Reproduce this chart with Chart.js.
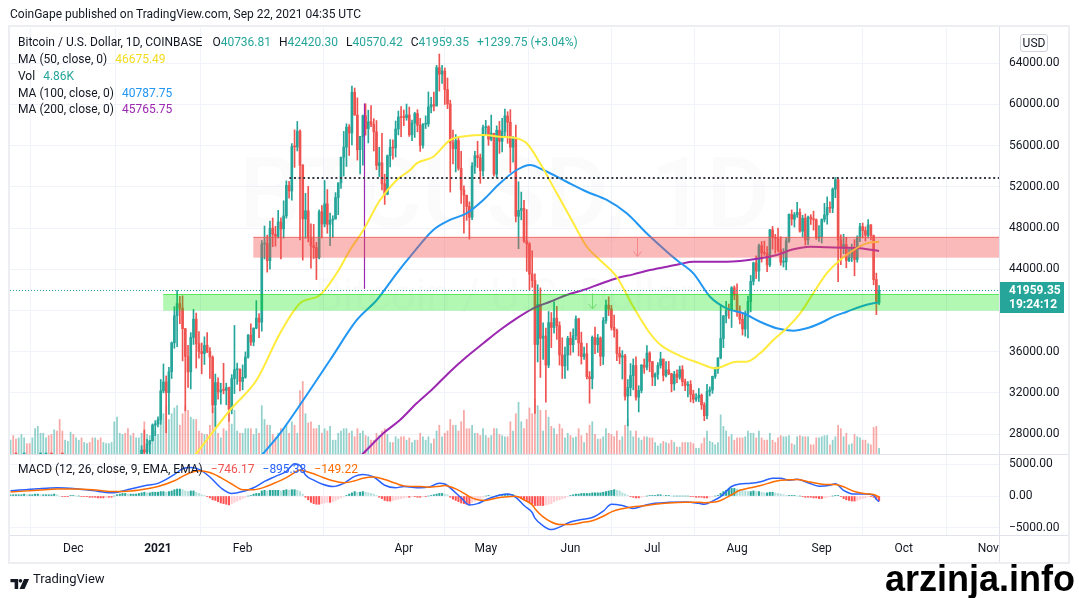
<!DOCTYPE html>
<html>
<head>
<meta charset="utf-8">
<title>BTCUSD 1D</title>
<script src="https://cdn.jsdelivr.net/npm/chart.js@4.4.1/dist/chart.umd.min.js"></script>
<style>
  html, body { margin:0; padding:0; background:#ffffff; }
  #wrap { position:relative; width:1079px; height:598px; overflow:hidden; font-family: Roboto, 'Noto Sans', sans-serif; color:#131722; }
  canvas { position:absolute; left:0; top:0; }
  .abs { position:absolute; white-space:nowrap; }
  .leg { font-size:12px; line-height:14px; color:#131722; }
  .g { margin-left:8px; }
  .sep { position:absolute; background:#e0e3eb; }
</style>
</head>
<body>
<div id="wrap">
  <canvas id="main" width="1079" height="598"></canvas>
  <canvas id="macd" width="1079" height="598"></canvas>
  <div class="abs" style="left:8px;top:25px;width:1058px;height:535px;border:2px solid #eceef2;"></div>
  <div class="sep" style="left:999px;top:27px;width:1px;height:535px;"></div>
  <div class="sep" style="left:10px;top:454px;width:1058px;height:1px;"></div>
  <div class="sep" style="left:10px;top:535px;width:1058px;height:1px;"></div>
  <div class="abs" style="left:10px;top:7px;font-size:12px;line-height:15px;color:#131722;">CoinGape published on TradingView.com, Sep 22, 2021 04:35 UTC</div>
  <div id="leg1" class="abs leg" style="left:18px;top:35px;"></div>
  <div id="leg2" class="abs leg" style="left:18px;top:52px;"></div>
  <div id="leg3" class="abs leg" style="left:18px;top:69px;"></div>
  <div id="leg4" class="abs leg" style="left:18px;top:86px;"></div>
  <div id="leg5" class="abs leg" style="left:18px;top:102px;"></div>
  <div id="leg6" class="abs leg" style="left:18px;top:462px;"></div>
  <div class="abs" style="left:1020px;top:34px;width:26px;height:16px;border:1px solid #d1d4dc;border-radius:3px;font-size:12px;line-height:16px;text-align:center;color:#131722;">USD</div>
  <div class="abs" style="left:10px;top:574px;">
    <svg width="20" height="10" viewBox="0 0 21 11"><path d="M0 0h8.5v11H4.6V3.6H0z" fill="#131722"/><circle cx="11" cy="2" r="2" fill="#131722"/><path d="M15 0h5.5l-5 11H10z" fill="#131722"/></svg>
  </div>
  <div class="abs" style="left:33px;top:571px;font-size:13px;line-height:16px;color:#131722;">TradingView</div>
  <div class="abs" style="left:885px;top:561px;font-family:'Liberation Sans',Arial,sans-serif;font-weight:bold;font-size:36px;line-height:36px;color:#000;">arzinja.info</div>
</div>
<script>
// ---------------- DATA (BTC/USD, Coinbase, daily, from 2020-11-08) ----------------
const startDate = '2020-11-08';
// prices in thousands of USD
const openK = [
 14.83,15.48,15.33,15.31,15.70,16.29,16.33,16.07,15.96,16.73,17.66,17.80,17.82,18.69,18.70,18.42,18.37,19.16,18.74,17.16,17.14,17.72,18.18,
 19.70,18.79,19.22,19.45,18.70,19.15,19.37,19.18,18.32,18.55,18.26,18.04,18.81,19.17,19.28,19.44,21.35,22.80,23.14,23.86,23.48,22.73,23.82,23.25,23.71,24.69,26.46,26.27,27.04,27.36,28.88,
 28.99,29.41,32.20,33.06,32.03,34.05,36.86,39.49,40.67,40.24,38.24,35.54,34.04,37.39,39.16,36.77,36.02,35.82,36.63,36.02,35.47,30.83,33.00,32.09,32.28,32.25,32.51,30.41,33.40,34.26,34.30,
 33.11,33.51,35.48,37.62,36.94,38.29,39.26,38.87,46.45,46.51,44.84,47.99,47.40,47.20,48.60,47.93,49.18,52.15,51.60,55.92,55.88,57.41,54.09,48.89,49.68,47.07,46.28,46.11,
 45.14,49.59,48.40,50.35,48.37,48.76,48.88,50.97,52.39,54.88,55.86,57.80,57.23,61.19,58.97,55.61,56.90,58.91,57.66,58.33,58.08,57.35,54.08,54.34,52.30,51.29,55.03,55.84,55.78,57.62,58.79,
 58.74,58.73,58.99,57.06,58.20,59.12,57.99,56.04,58.09,58.12,59.77,59.99,59.86,63.58,62.95,63.25,61.45,60.05,56.27,55.70,56.50,53.80,51.70,51.19,50.10,49.05,54.02,55.03,54.84,53.56,
 57.75,57.83,56.63,57.21,53.24,57.50,56.43,57.38,58.89,58.28,55.86,56.70,49.15,49.72,49.91,46.76,46.46,43.53,42.90,36.70,40.60,37.30,37.52,34.70,38.82,38.35,39.25,38.53,35.68,34.62,35.68,
 37.30,36.68,37.56,39.19,36.85,35.52,35.80,33.57,33.38,37.39,36.69,37.33,35.55,39.02,40.52,40.16,38.35,38.09,35.82,35.48,35.60,31.68,32.51,33.68,34.66,31.59,32.24,34.70,34.49,35.87,
 35.04,33.54,33.81,34.67,35.29,33.70,34.23,33.86,32.88,33.82,33.51,34.26,33.09,32.73,32.82,31.87,31.38,31.52,31.78,30.83,29.79,32.14,32.29,33.60,34.28,35.40,37.28,39.46,40.02,40.00,42.21,
 41.49,39.85,39.15,38.20,39.74,40.87,42.83,44.62,43.82,46.29,45.59,45.55,44.42,47.83,47.10,47.02,45.91,44.69,44.71,46.76,49.33,48.87,49.29,49.52,47.70,48.96,46.85,49.07,48.90,48.81,47.05,
 47.13,48.85,49.28,50.00,49.93,51.79,52.69,46.86,46.08,46.40,44.85,45.17,46.03,44.95,47.11,48.14,47.76,47.30,48.31,47.26,43.00,40.73681
];
const highK = [
 15.65,15.84,15.48,15.97,16.34,16.48,16.33,16.14,16.89,17.86,18.48,18.19,18.82,18.97,18.75,18.77,19.42,19.49,18.92,17.46,17.90,18.35,19.86,
 19.92,19.33,19.60,19.51,19.18,19.42,19.43,19.29,18.64,18.57,18.28,18.95,19.41,19.34,19.56,21.56,23.77,23.29,24.17,24.30,24.10,23.82,24.10,23.79,24.80,26.87,28.40,27.49,27.37,28.99,29.30,
 29.68,33.30,34.81,33.65,34.48,36.95,40.37,41.95,41.38,41.42,38.24,36.63,37.85,40.10,39.75,37.95,36.85,37.45,37.85,36.41,35.60,33.83,33.46,32.94,34.87,32.94,32.56,33.78,38.55,34.89,34.33,
 34.72,35.98,37.66,38.71,38.31,40.96,39.70,46.79,48.20,47.32,48.68,48.98,48.17,49.72,49.00,50.65,52.58,52.53,56.20,57.54,58.35,57.53,54.18,51.37,52.05,48.42,48.37,46.61,
 49.78,50.18,52.62,51.74,49.45,49.20,51.45,52.40,54.90,57.39,58.13,58.05,61.79,61.60,60.65,56.90,58.98,60.07,59.45,59.90,58.62,58.44,55.85,57.20,53.23,55.10,56.60,56.57,58.40,59.37,59.80,
 59.47,60.04,59.75,58.49,59.25,59.49,58.65,58.15,58.90,61.22,60.70,61.20,63.80,64.90,63.80,63.55,62.57,60.42,57.52,57.08,56.80,55.45,52.10,51.20,50.55,54.36,55.46,56.43,55.19,58.00,
 58.46,57.94,58.97,57.21,57.93,58.36,58.66,59.55,59.30,59.50,56.89,58.00,52.50,51.50,50.70,49.80,46.60,45.80,43.55,42.50,42.20,38.80,38.30,39.90,39.80,40.85,40.40,38.90,37.35,36.45,37.50,
 37.90,38.22,39.48,39.25,37.90,36.45,36.80,34.07,37.53,38.40,37.68,37.44,39.32,41.00,41.33,40.50,39.56,38.20,36.45,36.10,35.74,33.30,34.85,35.30,35.50,32.70,34.75,35.30,36.60,36.00,
 35.04,33.94,34.94,35.95,35.29,35.05,35.06,33.91,34.10,34.25,34.60,34.65,33.34,33.10,33.19,32.26,31.94,32.43,31.90,31.05,32.84,32.59,33.63,34.49,35.40,40.55,39.53,40.90,40.63,42.32,42.39,
 42.60,40.45,39.78,39.95,41.39,43.40,44.70,45.30,46.45,46.70,46.74,46.20,47.89,48.16,47.39,48.00,47.16,46.00,47.06,49.38,49.76,49.52,50.50,49.87,49.24,49.37,49.17,49.30,49.65,48.90,48.25,
 48.90,50.40,51.03,50.55,51.90,52.92,52.78,47.35,47.40,47.10,45.97,46.45,46.88,47.25,48.47,48.49,48.13,48.82,48.35,47.33,43.63,42.4203
];
const lowK = [
 14.72,14.80,15.09,15.28,15.44,15.96,15.71,15.87,15.87,16.55,17.22,17.35,17.76,18.36,17.62,18.00,18.03,18.57,16.33,16.45,16.88,17.53,18.18,
 18.32,18.35,18.94,18.59,18.51,18.92,18.90,18.21,17.65,17.91,17.58,18.02,18.72,19.00,19.08,19.30,21.23,22.35,22.76,23.07,22.00,22.36,22.72,22.74,23.44,24.51,25.84,26.09,25.88,27.33,27.85,
 28.70,28.95,32.00,28.13,29.90,33.40,36.33,36.50,38.72,35.11,30.26,32.52,32.38,36.70,34.41,35.36,33.85,34.76,35.90,33.40,30.07,28.73,31.40,30.90,31.91,30.84,29.24,29.97,31.94,32.83,32.20,
 32.30,33.42,35.37,36.62,36.57,38.22,37.35,37.99,45.00,43.73,44.02,46.20,46.25,47.03,45.00,47.02,48.96,50.90,50.70,53.90,55.49,46.85,44.89,47.00,46.66,44.10,45.04,43.00,
 45.00,47.05,48.12,47.50,46.30,47.07,48.88,49.30,51.85,53.05,53.99,55.05,56.07,58.97,54.60,53.27,54.12,57.02,56.27,57.85,55.49,53.67,53.00,51.70,50.30,51.23,53.95,54.70,54.90,57.05,56.87,
 57.95,58.47,56.90,56.50,56.80,57.35,55.45,55.75,57.67,57.87,59.18,59.37,59.85,61.30,62.05,60.00,59.60,51.50,54.22,53.45,53.62,50.40,47.50,48.76,46.93,48.81,53.32,53.88,52.35,53.05,
 57.05,56.04,56.47,53.05,52.90,55.25,55.40,56.90,56.23,53.40,54.40,48.60,46.00,48.80,46.60,43.80,42.00,42.25,30.00,35.00,33.50,35.25,31.10,34.45,36.40,37.80,37.20,34.70,33.40,33.40,34.20,
 35.67,35.95,37.17,35.60,34.80,35.26,33.35,31.00,32.40,35.81,35.93,34.65,34.76,38.75,39.51,38.11,37.42,35.13,34.82,33.35,31.30,28.80,31.72,32.30,31.30,30.15,32.00,33.90,34.23,34.06,
 32.71,32.70,33.33,34.40,33.16,33.55,33.77,32.10,32.26,33.00,33.32,32.68,32.22,31.60,31.13,31.03,31.17,31.14,30.40,29.30,29.48,31.70,31.95,33.40,33.88,35.30,36.40,38.80,39.24,38.35,41.05,
 39.43,38.70,37.62,37.50,37.33,39.87,42.48,43.10,42.85,44.70,45.35,43.77,44.25,45.95,45.56,45.66,44.40,44.22,43.95,46.62,48.28,48.10,49.03,47.60,47.14,46.35,46.38,48.35,47.80,46.90,46.70,
 46.55,48.60,48.38,49.50,49.50,50.95,42.80,44.45,45.51,44.15,44.75,44.75,43.37,44.69,46.68,47.05,46.75,47.05,46.85,42.50,39.60,40.57042
];
const closeK = [
 15.48,15.33,15.31,15.70,16.29,16.33,16.07,15.96,16.73,17.66,17.80,17.82,18.69,18.70,18.42,18.37,19.16,18.74,17.16,17.14,17.72,18.18,19.70,
 18.79,19.22,19.45,18.70,19.15,19.37,19.18,18.32,18.55,18.26,18.04,18.81,19.17,19.28,19.44,21.35,22.80,23.14,23.86,23.48,22.73,23.82,23.25,23.71,24.69,26.46,26.27,27.04,27.36,28.88,28.99,
 29.41,32.20,33.06,32.03,34.05,36.86,39.49,40.67,40.24,38.24,35.54,34.04,37.39,39.16,36.77,36.02,35.82,36.63,36.02,35.47,30.83,33.00,32.09,32.28,32.25,32.51,30.41,33.40,34.26,34.30,33.11,
 33.51,35.48,37.62,36.94,38.29,39.26,38.87,46.45,46.51,44.84,47.99,47.40,47.20,48.60,47.93,49.18,52.15,51.60,55.92,55.88,57.41,54.09,48.89,49.68,47.07,46.28,46.11,45.14,
 49.59,48.40,50.35,48.37,48.76,48.88,50.97,52.39,54.88,55.86,57.80,57.23,61.19,58.97,55.61,56.90,58.91,57.66,58.33,58.08,57.35,54.08,54.34,52.30,51.29,55.03,55.84,55.78,57.62,58.79,58.74,
 58.73,58.99,57.06,58.20,59.12,57.99,56.04,58.09,58.12,59.77,59.99,59.86,63.58,62.95,63.25,61.45,60.05,56.27,55.70,56.50,53.80,51.70,51.19,50.10,49.05,54.02,55.03,54.84,53.56,57.75,
 57.83,56.63,57.21,53.24,57.50,56.43,57.38,58.89,58.28,55.86,56.70,49.15,49.72,49.91,46.76,46.46,43.53,42.90,36.70,40.60,37.30,37.52,34.70,38.82,38.35,39.25,38.53,35.68,34.62,35.68,37.30,
 36.68,37.56,39.19,36.85,35.52,35.80,33.57,33.38,37.39,36.69,37.33,35.55,39.02,40.52,40.16,38.35,38.09,35.82,35.48,35.60,31.68,32.51,33.68,34.66,31.59,32.24,34.70,34.49,35.87,35.04,
 33.54,33.81,34.67,35.29,33.70,34.23,33.86,32.88,33.82,33.51,34.26,33.09,32.73,32.82,31.87,31.38,31.52,31.78,30.83,29.79,32.14,32.29,33.60,34.28,35.40,37.28,39.46,40.02,40.00,42.21,41.49,
 39.85,39.15,38.20,39.74,40.87,42.83,44.62,43.82,46.29,45.59,45.55,44.42,47.83,47.10,47.02,45.91,44.69,44.71,46.76,49.33,48.87,49.29,49.52,47.70,48.96,46.85,49.07,48.90,48.81,47.05,47.13,
 48.85,49.28,50.00,49.93,51.79,52.69,46.86,46.08,46.40,44.85,45.17,46.03,44.95,47.11,48.14,47.76,47.30,48.31,47.26,43.00,40.7196,41.95935
];
// volume in thousands of BTC
const volumeK = [
 12,16,13,14,17,14,9,9,14,22,24,18,18,14,16,17,21,20,30,20,12,11,19,
 17,14,12,14,10,9,10,14,14,12,14,10,9,9,10,28,32,18,17,18,22,16,18,14,14,18,28,17,16,22,20,
 17,40,35,42,30,35,40,42,25,35,42,38,32,30,30,20,18,17,17,25,40,40,18,14,22,20,28,26,38,20,18,
 18,22,22,22,17,22,18,42,30,25,25,17,14,18,22,22,25,18,28,25,18,55,63,35,27,28,22,22,
 25,18,22,20,24,12,12,18,20,22,22,18,20,15,22,18,20,16,15,12,12,18,16,20,22,17,10,10,15,13,15,
 15,12,14,10,12,12,18,15,12,15,9,13,20,25,15,18,20,30,25,25,20,28,38,22,22,25,18,18,16,22,
 16,14,16,22,22,17,16,15,15,28,20,35,45,28,22,30,40,35,48,42,38,20,38,32,24,22,17,26,22,14,18,
 16,14,15,22,16,10,18,25,28,17,13,13,15,22,18,17,15,20,12,15,25,30,20,15,20,14,12,15,15,14,
 14,10,7,9,11,10,9,12,10,6,6,10,10,10,10,9,5,5,9,14,20,11,10,8,10,34,24,20,15,17,12,
 14,14,14,15,20,18,18,14,20,14,12,12,18,12,10,14,16,15,15,16,9,8,15,16,15,15,15,8,8,14,14,
 15,16,16,8,12,15,25,22,15,18,8,9,17,15,14,12,12,9,8,23,24,4.86
];
// MACD histogram, hundreds
const histH = [
 2,2,2,2,2,3,2,2,2,3,3,2,2,2,2,2,3,2,0,-1,-1,-1,1,
 1,0,0,-1,-1,-1,-2,-2,-2,-3,-3,-3,-2,-2,-2,0,2,3,4,4,3,3,3,3,4,5,6,5,5,6,6,
 6,7,7,6,7,8,10,11,11,10,8,7,8,8,6,4,2,1,-1,-3,-6,-7,-9,-11,-12,-13,-14,-12,-10,-8,-6,
 -4,-2,0,1,3,4,4,8,9,8,9,9,9,9,8,9,10,9,10,10,9,7,3,-2,-6,-10,-12,-13,
 -13,-12,-11,-10,-10,-9,-7,-5,-3,-1,1,3,5,7,6,6,7,6,5,4,3,1,-2,-4,-7,-8,-8,-7,-6,-5,-4,
 -3,-2,-2,-1,-1,-2,-2,-1,-1,0,1,2,3,4,4,3,2,-2,-5,-7,-9,-11,-12,-13,-13,-10,-8,-6,-4,-2,
 0,1,0,-1,1,2,2,3,3,2,2,0,-2,-4,-6,-8,-10,-12,-15,-15,-15,-15,-14,-13,-12,-9,-7,-6,-4,-3,-1,
 1,2,3,3,4,4,4,4,5,5,5,5,6,7,8,9,10,9,8,5,3,1,-1,-2,-3,-3,-2,-1,0,1,
 1,1,2,2,1,1,1,0,0,0,0,0,0,0,-1,-1,-2,-2,-2,-3,-3,-2,-1,0,1,4,7,9,11,12,12,
 11,10,9,8,7,7,8,7,7,6,5,5,6,6,5,4,3,2,1,1,1,1,0,0,-1,-2,-2,-2,-3,-3,-4,
 -4,-3,-2,-1,0,1,1,-1,-4,-6,-7,-8,-8,-7,-5,-4,-3,-1,-1,-2,-5,-7.4617
];
// MACD / signal lines: [day index, value]
const macdLine = [[0,820],[10,1150],[17,1300],[23,1200],[30,850],[37,500],[44,1100],[50,1700],[54,2000],[60,3400],[63,4300],[66,4500],[69,4200],[73,3000],[77,1300],[81,400],[85,700],[89,1300],[93,2300],[97,3100],[101,3900],[104,5100],[106,4800],[108,3300],[111,2500],[114,1900],[118,1500],[122,2000],[126,3100],[129,3400],[133,3000],[137,1700],[141,1300],[144,1500],[150,1300],[153,1400],[157,2000],[159,1900],[162,900],[165,-300],[168,-1400],[171,-1200],[174,-600],[178,0],[182,300],[185,-200],[188,-1500],[191,-2600],[192,-3500],[195,-4700],[198,-5300],[201,-4900],[205,-4100],[209,-3700],[213,-3400],[217,-2400],[220,-1300],[224,-1500],[228,-1950],[232,-1500],[236,-1150],[241,-1000],[247,-950],[252,-1150],[254,-1300],[257,-800],[260,-100],[264,1500],[267,1900],[271,2000],[275,2300],[279,2800],[282,2800],[285,2500],[288,2650],[292,2100],[296,1550],[300,1700],[302,1950],[305,900],[309,300],[313,300],[316,100],[317,-500],[318,-895.38]];
const signalLine = [[0,650],[10,900],[17,1100],[23,1100],[30,1000],[37,700],[44,800],[50,1150],[54,1500],[60,2400],[63,3100],[66,3700],[69,4000],[73,3700],[77,2900],[81,1900],[85,1000],[89,1000],[93,1400],[97,2100],[101,2900],[104,3700],[106,4100],[108,3900],[111,3500],[114,3000],[118,2400],[122,2100],[126,2400],[129,2800],[133,3000],[137,2600],[141,2000],[144,1600],[150,1500],[153,1400],[157,1550],[159,1650],[162,1300],[165,700],[168,-100],[171,-600],[174,-700],[178,-300],[182,-100],[185,-50],[188,-600],[191,-1400],[192,-2000],[195,-3300],[198,-4100],[201,-4500],[205,-4500],[209,-4200],[213,-3900],[217,-3200],[220,-2500],[224,-2000],[228,-1700],[232,-1550],[236,-1300],[241,-1100],[247,-1000],[252,-1000],[254,-1050],[257,-1000],[260,-700],[264,200],[267,900],[271,1300],[275,1700],[279,2200],[282,2500],[285,2550],[288,2600],[292,2250],[296,1950],[300,1800],[302,1800],[305,1450],[309,700],[313,350],[316,250],[317,50],[318,-149.22]];
// moving averages, thousands of USD: [day index, value]
const ma50 = [[62,24.1],[68.2,26.17],[80.4,30.34],[90.1,33.25],[98.7,37.79],[106,40.7],[113.3,41.5],[119.4,43.61],[124.3,45.87],[129.2,47.82],[135.3,50.73],[141.4,52.67],[146.3,53.64],[148.7,54.29],[154.8,54.93],[160.9,56.55],[167,56.94],[173.1,57.04],[179.2,56.87],[185.3,56.72],[189,56.23],[193.9,54.29],[200,51.38],[206.1,48.47],[211,46.19],[215.8,44.9],[221.9,43.28],[228,40.37],[234.1,37.79],[237.8,36.7],[245.1,35.6],[252.4,34.87],[257.9,34.39],[265.9,35.03],[269.5,35.03],[274.4,35.84],[279.3,37.14],[284.2,38.27],[289.1,39.73],[293.9,41.67],[298.8,43.61],[303.7,44.9],[308.6,45.87],[313.5,46.52],[318,46.67549]];
const ma100 = [[85,23.8],[92.6,26.14],[98.7,28.08],[107.2,31.31],[117,35.19],[126.8,39.08],[134.1,41.02],[141.4,43.61],[146.3,45.22],[154.8,47.82],[160.9,48.79],[167,49.44],[173.1,50.73],[179.2,52.35],[185.3,53.64],[190.2,54.13],[195.1,53.64],[203.6,52.5],[211,51.53],[218.3,50.73],[225.6,49.44],[232.9,47.5],[240.3,45.71],[243.9,44.9],[250,43.61],[256.1,41.34],[262.2,40.21],[268.3,39.73],[274.4,38.91],[280.5,38.27],[286.6,38.04],[291.5,38.27],[296.4,38.76],[301.3,39.4],[306.2,39.88],[311.1,40.37],[315.9,40.7],[318,40.78775]];
const ma200 = [[120,23.9],[129.2,26.14],[136.5,28.08],[142.6,29.37],[148.7,30.99],[154.8,32.45],[160.9,34.06],[167,35.51],[173.1,36.82],[179.2,38.11],[185.3,39.24],[191.4,40.21],[197.5,40.85],[203.6,41.5],[209.7,41.99],[215.8,42.57],[221.9,43.13],[228,43.51],[234.1,43.93],[240.3,44.25],[245.1,44.51],[250,44.74],[262.2,44.74],[274.4,45.07],[280.5,45.39],[286.6,45.94],[292.7,46.19],[298.8,46.14],[304.9,46.1],[311.1,46.04],[318,45.76575]];
// drawings
const resistanceZone = {fromDay: 88.9, low: 45130, high: 47170};
const supportZone = {fromDay: 55.9, low: 39980, high: 41600};
const swingHigh = {fromDay: 102.1, price: 52850};
const markerLine = {day: 129.6, low: 42100, high: 60100};
const arrowMarks = [{day: 229.3, from: 47100, to: 45250, color: '#f5868a'}, {day: 212.8, from: 41650, to: 40150, color: '#6fdc6f'}];
// axes
const priceTicks = [28000, 32000, 36000, 40000, 44000, 48000, 52000, 56000, 60000, 64000];
const macdTicks = [-5000, 0, 5000];
const timeTickDates = ['2020-12-01','2021-01-01','2021-02-01','2021-04-01','2021-05-01','2021-06-01','2021-07-01','2021-08-01','2021-09-01','2021-10-01','2021-11-01'];
const timeTickLabels = ['Dec','2021','Feb','Apr','May','Jun','Jul','Aug','Sep','Oct','Nov'];
const countdown = '19:24:12';

// ---------------- BUILD ----------------
const FONT = "Roboto, 'Noto Sans', sans-serif";
const UP = '#26a69a', DOWN = '#ef5350';
const UPV = 'rgba(38,166,154,0.5)', DOWNV = 'rgba(239,83,80,0.5)';
const N = closeK.length;
const days = closeK.map((_, i) => i);
const isUp = i => closeK[i] >= openK[i];
const DAY = 86400000;
const tickDays = timeTickDates.map(d => (Date.parse(d) - Date.parse(startDate)) / DAY);
const X_MIN = -0.18, X_MAX = 361.9;
const lastClose = closeK[N-1] * 1000;
const k = v => v * 1000;
const fmt2 = v => (v < 0 ? '\u2212' : '') + Math.abs(v).toFixed(2);

if ([openK, highK, lowK, volumeK, histH].some(a => a.length !== N)) {
  const e = document.createElement('div'); e.className = 'abs';
  e.style.cssText = 'left:300px;top:300px;color:red;font-size:20px';
  e.textContent = 'LEN ' + [openK, highK, lowK, closeK, volumeK, histH].map(a => a.length).join(',');
  document.getElementById('wrap').appendChild(e);
}

// legends
const span = (t, c) => `<span style="color:${c}">${t}</span>`;
const chg = closeK[N-1]*1000 - closeK[N-2]*1000;
const pct = chg / (closeK[N-2]*1000) * 100;
const valC = isUp(N-1) ? UP : DOWN;
document.getElementById('leg1').innerHTML = 'Bitcoin / U.S. Dollar, 1D, COINBASE' +
  `<span class="g" style="margin-left:10px">O${span(k(openK[N-1]).toFixed(2), valC)}</span>` +
  `<span class="g">H${span(k(highK[N-1]).toFixed(2), valC)}</span>` +
  `<span class="g">L${span(k(lowK[N-1]).toFixed(2), valC)}</span>` +
  `<span class="g">C${span(k(closeK[N-1]).toFixed(2), valC)}</span>` +
  `<span class="g">${span((chg >= 0 ? '+' : '\u2212') + Math.abs(chg).toFixed(2) + ' (' + (pct >= 0 ? '+' : '\u2212') + Math.abs(pct).toFixed(2) + '%)', valC)}</span>`;
document.getElementById('leg2').innerHTML = 'MA (50, close, 0)<span class="g">' + span(k(ma50[ma50.length-1][1]).toFixed(2), '#f2dc1d') + '</span>';
document.getElementById('leg3').innerHTML = 'Vol<span class="g">' + span(volumeK[N-1].toFixed(2) + 'K', UP) + '</span>';
document.getElementById('leg4').innerHTML = 'MA (100, close, 0)<span class="g">' + span(k(ma100[ma100.length-1][1]).toFixed(2), '#2196f3') + '</span>';
document.getElementById('leg5').innerHTML = 'MA (200, close, 0)<span class="g">' + span(k(ma200[ma200.length-1][1]).toFixed(2), '#9c27b0') + '</span>';
document.getElementById('leg6').innerHTML = 'MACD (12, 26, close, 9, EMA, EMA)' +
  '<span class="g">' + span(fmt2(histH[N-1]*100), '#ef5350') + '</span>' +
  '<span class="g">' + span(fmt2(macdLine[macdLine.length-1][1]), '#2962ff') + '</span>' +
  '<span class="g">' + span(fmt2(signalLine[signalLine.length-1][1]), '#ff6d00') + '</span>';

Chart.defaults.font.family = FONT;
Chart.defaults.font.size = 12;
Chart.defaults.color = '#131722';

const xScaleBase = {
  type: 'linear', min: X_MIN, max: X_MAX, offset: false,
  afterBuildTicks: s => { s.ticks = tickDays.map(v => ({value: v})); },
  grid: {color: '#f0f3fa', drawTicks: false},
  border: {display: false}
};

const overlay = {
  id: 'overlay',
  beforeDatasetsDraw(chart) {
    const {ctx, chartArea: a} = chart;
    ctx.save();
    ctx.beginPath(); ctx.rect(a.left, a.top, a.width, a.height); ctx.clip();
    ctx.fillStyle = 'rgba(149,152,161,0.035)';
    ctx.textAlign = 'center'; ctx.textBaseline = 'alphabetic';
    ctx.font = `500 98px ${FONT}`;
    ctx.fillText('BTCUSD, 1D', (a.left + a.right) / 2, a.top + 199);
    ctx.font = `44px ${FONT}`;
    ctx.fillText('Bitcoin / U.S. Dollar', (a.left + a.right) / 2, a.top + 282);
    ctx.restore();
  },
  afterDatasetsDraw(chart) {
    const {ctx, chartArea: a, scales: {x, y}} = chart;
    ctx.save();
    ctx.beginPath(); ctx.rect(a.left, a.top, a.width, a.height); ctx.clip();
    const zone = (z, fill, edge) => {
      const x0 = x.getPixelForValue(z.fromDay), y0 = y.getPixelForValue(z.high), y1 = y.getPixelForValue(z.low);
      ctx.fillStyle = fill; ctx.fillRect(x0, y0, a.right - x0, y1 - y0);
      ctx.strokeStyle = edge; ctx.lineWidth = 1;
      ctx.beginPath(); ctx.moveTo(x0, Math.round(y0) + 0.5); ctx.lineTo(a.right, Math.round(y0) + 0.5); ctx.stroke();
    };
    zone(resistanceZone, 'rgba(239,83,80,0.4)', 'rgba(239,83,80,0.6)');
    zone(supportZone, 'rgba(0,230,0,0.3)', 'rgba(0,220,0,0.5)');
    // swing high dotted line
    const sy = Math.round(y.getPixelForValue(swingHigh.price));
    ctx.strokeStyle = '#363a45'; ctx.lineWidth = 2; ctx.setLineDash([2, 2.6]);
    ctx.beginPath(); ctx.moveTo(x.getPixelForValue(swingHigh.fromDay), sy); ctx.lineTo(a.right, sy); ctx.stroke();
    // last price line
    const py = Math.round(y.getPixelForValue(lastClose)) + 0.5;
    ctx.strokeStyle = UP; ctx.lineWidth = 1; ctx.setLineDash([1, 2]);
    ctx.beginPath(); ctx.moveTo(a.left, py); ctx.lineTo(a.right, py); ctx.stroke();
    ctx.setLineDash([]);
    // arrows
    arrowMarks.forEach(m => {
      const ax = Math.round(x.getPixelForValue(m.day)) + 0.5, y0 = y.getPixelForValue(m.from), y1 = y.getPixelForValue(m.to);
      ctx.strokeStyle = m.color; ctx.lineWidth = 1;
      ctx.beginPath(); ctx.moveTo(ax, y0); ctx.lineTo(ax, y1);
      ctx.moveTo(ax - 4, y1 - 5); ctx.lineTo(ax, y1); ctx.lineTo(ax + 4, y1 - 5); ctx.stroke();
    });
    ctx.restore();
  },
  afterDraw(chart) {
    const {ctx, chartArea: a, scales: {y}} = chart;
    const py = Math.round(y.getPixelForValue(lastClose));
    ctx.save();
    ctx.fillStyle = UP;
    ctx.fillRect(a.right, py - 8, 65, 31);
    ctx.fillStyle = '#ffffff'; ctx.font = `bold 12px ${FONT}`;
    ctx.textAlign = 'left'; ctx.textBaseline = 'middle';
    ctx.fillText(lastClose.toFixed(2), a.right + 10, py + 1);
    ctx.fillText(countdown, a.right + 10, py + 15);
    ctx.restore();
  }
};

const lineDS = (pts, color, scaleK, order) => ({
  type: 'line', data: pts.map(p => ({x: p[0], y: scaleK ? p[1] * 1000 : p[1]})),
  borderColor: color, borderWidth: 2, pointRadius: 0, cubicInterpolationMode: 'monotone', order, yAxisID: 'y'
});

new Chart(document.getElementById('main'), {
  type: 'bar',
  data: {
    datasets: [
      lineDS(ma50, '#ffeb3b', true, 0),
      lineDS(ma100, '#2196f3', true, 0),
      lineDS(ma200, '#9c27b0', true, 0),
      {type: 'line', data: [{x: markerLine.day, y: markerLine.low}, {x: markerLine.day, y: markerLine.high}],
        borderColor: '#9c27b0', borderWidth: 1.2, pointRadius: 0, order: 0, yAxisID: 'y'},
      {type: 'bar', data: days.map(i => ({x: i, y: [k(openK[i]), k(closeK[i])]})),
        backgroundColor: days.map(i => isUp(i) ? UP : DOWN), barThickness: 2, minBarLength: 1, grouped: false, order: 1, yAxisID: 'y'},
      {type: 'bar', data: days.map(i => ({x: i, y: [k(lowK[i]), k(highK[i])]})),
        backgroundColor: days.map(i => isUp(i) ? UP : DOWN), barThickness: 1, grouped: false, order: 2, yAxisID: 'y'},
      {type: 'bar', data: days.map(i => ({x: i, y: volumeK[i]})),
        backgroundColor: days.map(i => isUp(i) ? UPV : DOWNV), barThickness: 1.1, grouped: false, order: 3, yAxisID: 'yv'}
    ]
  },
  options: {
    responsive: false, animation: false, events: [], devicePixelRatio: 1,
    layout: {padding: {left: 10, right: 11, top: 28, bottom: 144}},
    plugins: {legend: {display: false}, tooltip: {enabled: false}},
    scales: {
      x: Object.assign({}, xScaleBase, {ticks: {display: false}, afterFit: s => { s.height = 0; }}),
      y: {type: 'linear', position: 'right', min: 26068, max: 67427,
        afterBuildTicks: s => { s.ticks = priceTicks.map(v => ({value: v})); },
        afterFit: s => { s.width = 69; },
        ticks: {callback: v => v.toFixed(2), padding: 10, color: '#131722', font: {size: 12}},
        grid: {color: '#f0f3fa', drawTicks: false}, border: {display: false}},
      yv: {type: 'linear', display: false, min: 0, max: 370}
    }
  },
  plugins: [overlay]
});

const histColor = days.map(i => {
  const h = histH[i], p = i > 0 ? histH[i-1] : h;
  if (h >= 0) return h >= p ? '#26a69a' : '#b2dfdb';
  return h <= p ? '#ff5252' : '#ffcdd2';
});

new Chart(document.getElementById('macd'), {
  type: 'bar',
  data: {
    datasets: [
      {type: 'line', data: signalLine.map(p => ({x: p[0], y: p[1]})), borderColor: '#ff6d00', borderWidth: 1.5, pointRadius: 0, cubicInterpolationMode: 'monotone', order: 0},
      {type: 'line', data: macdLine.map(p => ({x: p[0], y: p[1]})), borderColor: '#2962ff', borderWidth: 1.5, pointRadius: 0, cubicInterpolationMode: 'monotone', order: 1},
      {type: 'bar', data: days.map(i => ({x: i, y: histH[i] * 100})), backgroundColor: histColor, barThickness: 1.4, grouped: false, order: 2}
    ]
  },
  options: {
    responsive: false, animation: false, events: [], devicePixelRatio: 1,
    layout: {padding: {left: 10, right: 11, top: 455, bottom: 36}},
    plugins: {legend: {display: false}, tooltip: {enabled: false}},
    scales: {
      x: Object.assign({}, xScaleBase, {
        afterFit: s => { s.height = 27; },
        ticks: {autoSkip: false, maxRotation: 0, padding: 7, color: '#131722',
          callback: v => { const j = tickDays.indexOf(v); return j >= 0 ? timeTickLabels[j] : ''; },
          font: c => ({size: 12, weight: (c.tick && c.tick.label === '2021') ? 'bold' : 'normal'})}
      }),
      y: {type: 'linear', position: 'right', min: -6150, max: 6470,
        afterBuildTicks: s => { s.ticks = macdTicks.map(v => ({value: v})); },
        afterFit: s => { s.width = 69; },
        ticks: {callback: v => fmt2(v), padding: 10, color: '#131722', font: {size: 12}},
        grid: {color: '#f0f3fa', drawTicks: false}, border: {display: false}}
    }
  }
});
</script>
</body>
</html>
